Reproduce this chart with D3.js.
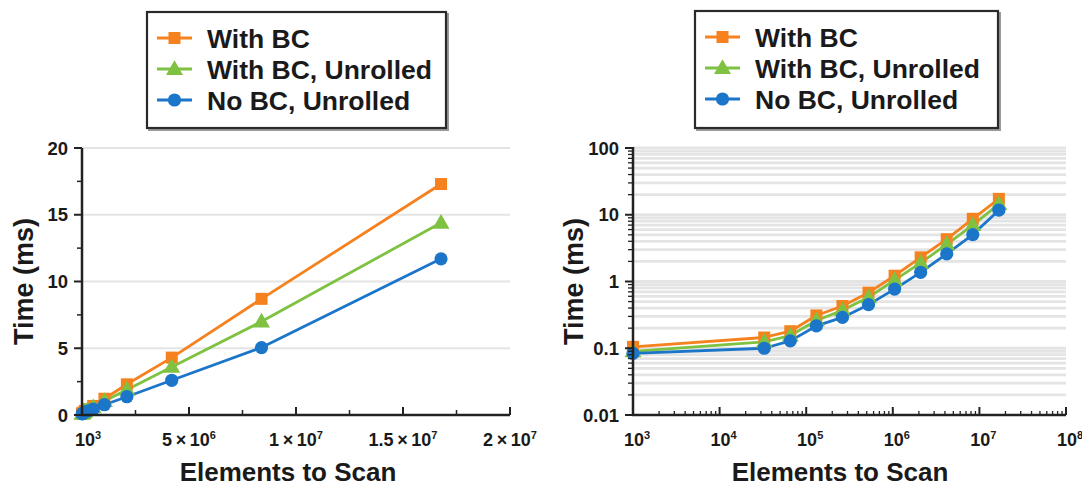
<!DOCTYPE html>
<html>
<head>
<meta charset="utf-8">
<script src="https://cdn.jsdelivr.net/npm/d3@7"></script>
<style>
  html, body { margin: 0; padding: 0; background: #fff; }
  svg { display: block; }
  text { font-family: "Liberation Sans", Arial, Helvetica, sans-serif; font-weight: bold; fill: #1a1a1a; }
</style>
</head>
<body>
<svg id="chart" width="1082" height="486"></svg>
<script>
// ---------- DATA ----------
const elements = [1000, 32768, 65536, 131072, 262144, 524288, 1048576, 2097152, 4194304, 8388608, 16777216];
const withBC          = [0.105, 0.145, 0.18, 0.31, 0.43, 0.68, 1.22, 2.3, 4.3, 8.7, 17.3];
const withBCUnrolled  = [0.09, 0.125, 0.155, 0.26, 0.37, 0.58, 1.05, 1.9, 3.6, 7.0, 14.4];
const noBCUnrolled    = [0.084, 0.10, 0.129, 0.216, 0.29, 0.45, 0.77, 1.37, 2.6, 5.05, 11.7];
const seriesNames = ["With BC", "With BC, Unrolled", "No BC, Unrolled"];
const seriesColors = ["#f5821f", "#7fc241", "#1b75c9"];
const seriesShapes = ["square", "triangle", "circle"];

const linYTicks = [0, 5, 10, 15, 20];
const linYMinor = [2.5, 7.5, 12.5, 17.5];
const linXTicks = [1000, 5e6, 1e7, 1.5e7, 2e7];
const linXTickLabels = [["10", "3"], ["5\u2009\u00d7\u200910", "6"], ["1\u2009\u00d7\u200910", "7"], ["1.5\u2009\u00d7\u200910", "7"], ["2\u2009\u00d7\u200910", "7"]];
const linXMinor = [2.5e6, 7.5e6, 1.25e7, 1.75e7];
const logYTicks = [0.01, 0.1, 1, 10, 100];
const logYTickLabels = ["0.01", "0.1", "1", "10", "100"];
const logXTicks = [1e3, 1e4, 1e5, 1e6, 1e7, 1e8];
const logXTickLabels = [["10", "3"], ["10", "4"], ["10", "5"], ["10", "6"], ["10", "7"], ["10", "8"]];

const yLabel = "Time (ms)";
const xLabel = "Elements to Scan";

const series = [withBC, withBCUnrolled, noBCUnrolled].map((vals, i) => ({
  name: seriesNames[i], color: seriesColors[i], shape: seriesShapes[i],
  points: vals.map((v, j) => ({ x: elements[j], y: v }))
}));

const svg = d3.select("#chart");
const axisColor = "#222";

function drawMarker(g, shape, color, cx, cy) {
  if (shape === "square") {
    g.append("rect").attr("x", cx - 6).attr("y", cy - 6).attr("width", 12).attr("height", 12).attr("fill", color);
  } else if (shape === "triangle") {
    const sym = d3.symbol().type(d3.symbolTriangle).size(125);
    g.append("path").attr("d", sym()).attr("transform", `translate(${cx},${cy + 1})`).attr("fill", color);
  } else {
    g.append("circle").attr("cx", cx).attr("cy", cy).attr("r", 6.6).attr("fill", color);
  }
}

function drawSeries(g, x, y) {
  const line = d3.line().x(d => x(d.x)).y(d => y(d.y));
  series.forEach(s => {
    g.append("path").datum(s.points).attr("d", line).attr("fill", "none")
      .attr("stroke", s.color).attr("stroke-width", 2.8).attr("stroke-linejoin", "round");
  });
  series.forEach(s => {
    s.points.forEach(p => drawMarker(g, s.shape, s.color, x(p.x), y(p.y)));
  });
}

function drawLegend(x0, y0, w, h) {
  const g = svg.append("g");
  g.append("rect").attr("x", x0 + 2).attr("y", y0 + 2).attr("width", w).attr("height", h)
    .attr("fill", "none").attr("stroke", "#9a9a9a").attr("stroke-width", 2);
  g.append("rect").attr("x", x0).attr("y", y0).attr("width", w).attr("height", h)
    .attr("fill", "#fff").attr("stroke", "#2a2a2a").attr("stroke-width", 2.2);
  series.forEach((s, i) => {
    const cy = y0 + 26 + i * 31;
    g.append("line").attr("x1", x0 + 10).attr("x2", x0 + 45).attr("y1", cy).attr("y2", cy)
      .attr("stroke", s.color).attr("stroke-width", 2.8);
    drawMarker(g, s.shape, s.color, x0 + 27.5, cy);
    g.append("text").attr("x", x0 + 60).attr("y", cy + 9.5).attr("font-size", 26.5).text(s.name);
  });
}

function supLabel(g, xPos, yPos, parts, anchor) {
  const t = g.append("text").attr("x", xPos).attr("y", yPos).attr("font-size", 18)
    .attr("text-anchor", anchor || "middle");
  t.append("tspan").text(parts[0]);
  t.append("tspan").attr("dy", -7).attr("font-size", 11).text(parts[1]);
}

const plotTop = 148, plotBottom = 415;

// ---------- LEFT: linear ----------
(function () {
  const left = 82, right = 510;
  const x = d3.scaleLinear().domain([0, 2e7]).range([left, right]);
  const y = d3.scaleLinear().domain([0, 20]).range([plotBottom, plotTop]);
  const g = svg.append("g");

  linYTicks.filter(v => v > 0).forEach(v => {
    g.append("line").attr("x1", left).attr("x2", right).attr("y1", y(v)).attr("y2", y(v))
      .attr("stroke", "#e4e4e4").attr("stroke-width", 2);
  });

  drawSeries(g, x, y);

  g.append("line").attr("x1", left).attr("x2", left).attr("y1", plotTop).attr("y2", plotBottom + 1)
    .attr("stroke", axisColor).attr("stroke-width", 2.5);
  g.append("line").attr("x1", left - 1).attr("x2", right).attr("y1", plotBottom).attr("y2", plotBottom)
    .attr("stroke", axisColor).attr("stroke-width", 2.5);

  linYTicks.forEach(v => {
    g.append("line").attr("x1", left - 8).attr("x2", left).attr("y1", y(v)).attr("y2", y(v))
      .attr("stroke", axisColor).attr("stroke-width", 2);
    g.append("text").attr("x", left - 14).attr("y", y(v) + 6.5).attr("font-size", 18.5)
      .attr("text-anchor", "end").text(v);
  });
  linYMinor.forEach(v => {
    g.append("line").attr("x1", left - 5).attr("x2", left).attr("y1", y(v)).attr("y2", y(v))
      .attr("stroke", axisColor).attr("stroke-width", 1.5);
  });
  linXTicks.forEach((v, i) => {
    if (i > 0) g.append("line").attr("x1", x(v)).attr("x2", x(v)).attr("y1", plotBottom - 8).attr("y2", plotBottom)
      .attr("stroke", axisColor).attr("stroke-width", 2);
    supLabel(g, x(v) + (i === 0 ? 6 : 0), 446, linXTickLabels[i]);
  });
  linXMinor.forEach(v => {
    g.append("line").attr("x1", x(v)).attr("x2", x(v)).attr("y1", plotBottom - 5).attr("y2", plotBottom)
      .attr("stroke", axisColor).attr("stroke-width", 1.5);
  });

  g.append("text").attr("transform", `translate(33,${(plotTop + plotBottom) / 2}) rotate(-90)`)
    .attr("text-anchor", "middle").attr("font-size", 27).text(yLabel);
  g.append("text").attr("x", 288).attr("y", 481).attr("text-anchor", "middle")
    .attr("font-size", 26).text(xLabel);
})();

// ---------- RIGHT: log-log ----------
(function () {
  const left = 633, right = 1066;
  const x = d3.scaleLog().domain([1e3, 1e8]).range([left, right]);
  const y = d3.scaleLog().domain([0.01, 100]).range([plotBottom, plotTop]);
  const g = svg.append("g");

  const yAll = y.ticks();
  yAll.filter(v => v > 0.01 + 1e-9).forEach(v => {
    g.append("line").attr("x1", left).attr("x2", right).attr("y1", y(v)).attr("y2", y(v))
      .attr("stroke", "#e4e4e4").attr("stroke-width", 2.8);
  });

  drawSeries(g, x, y);

  g.append("line").attr("x1", left).attr("x2", left).attr("y1", plotTop - 1).attr("y2", plotBottom + 1)
    .attr("stroke", axisColor).attr("stroke-width", 2.5);
  g.append("line").attr("x1", left - 1).attr("x2", right).attr("y1", plotBottom).attr("y2", plotBottom)
    .attr("stroke", axisColor).attr("stroke-width", 2.5);

  yAll.forEach(v => {
    const major = logYTicks.some(t => Math.abs(t - v) / t < 1e-6);
    g.append("line").attr("x1", left - (major ? 8 : 5)).attr("x2", left).attr("y1", y(v)).attr("y2", y(v))
      .attr("stroke", axisColor).attr("stroke-width", major ? 2 : 1.3);
  });
  logYTicks.forEach((v, i) => {
    g.append("text").attr("x", left - 14).attr("y", y(v) + 6.5).attr("font-size", 18.5)
      .attr("text-anchor", "end").text(logYTickLabels[i]);
  });

  const xAll = x.ticks();
  xAll.forEach(v => {
    const major = logXTicks.some(t => Math.abs(t - v) / t < 1e-6);
    if (v === 1e3) return;
    g.append("line").attr("x1", x(v)).attr("x2", x(v)).attr("y1", plotBottom - (major ? 8 : 4)).attr("y2", plotBottom)
      .attr("stroke", axisColor).attr("stroke-width", major ? 2 : 1.3);
  });
  logXTicks.forEach((v, i) => supLabel(g, x(v) + 4, 446, logXTickLabels[i]));

  g.append("text").attr("transform", `translate(583,${(plotTop + plotBottom) / 2}) rotate(-90)`)
    .attr("text-anchor", "middle").attr("font-size", 27).text(yLabel);
  g.append("text").attr("x", 840).attr("y", 481).attr("text-anchor", "middle")
    .attr("font-size", 26).text(xLabel);
})();

drawLegend(147, 12, 299, 116);
drawLegend(695, 11, 303, 117);
</script>
</body>
</html>
